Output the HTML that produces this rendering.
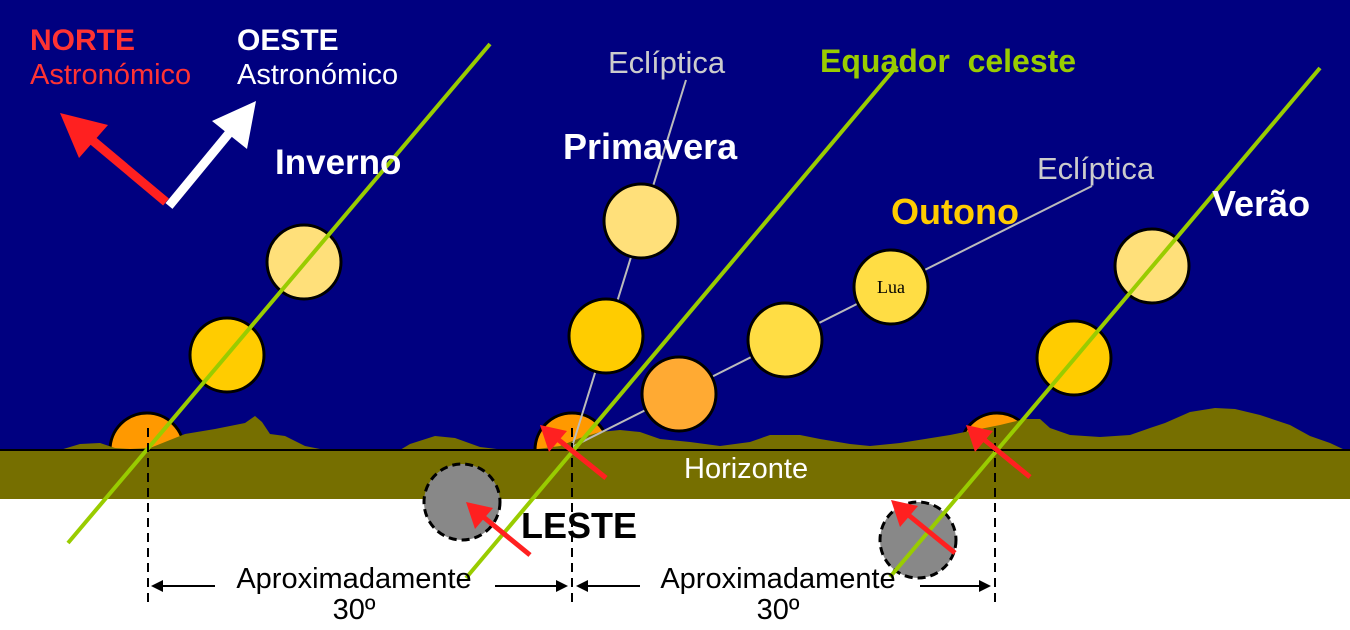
<!DOCTYPE html>
<html><head><meta charset="utf-8"><style>
html,body{margin:0;padding:0;width:1350px;height:630px;overflow:hidden;background:#fff}
svg{display:block}
text{font-family:"Liberation Sans",sans-serif}
</style></head><body>
<svg width="1350" height="630" viewBox="0 0 1350 630" xmlns="http://www.w3.org/2000/svg">
<defs>
<clipPath id="sky"><rect x="0" y="0" width="1350" height="450"/></clipPath>
<marker id="ah" markerWidth="6" markerHeight="6" refX="5" refY="3" orient="auto" markerUnits="strokeWidth"><path d="M0,0 L6,3 L0,6 z" fill="#000"/></marker>
</defs>
<rect x="0" y="0" width="1350" height="451" fill="#000080"/>
<g clip-path="url(#sky)" stroke="#000" stroke-width="3">
<circle cx="147" cy="450" r="37" fill="#ff9900"/>
<circle cx="572" cy="450" r="37" fill="#ff9900"/>
<circle cx="997" cy="450" r="37" fill="#ff9900"/>
</g>
<path d="M60,450 L80,444 L100,443 L115,448 L130,449 L150,448 L185,434 L215,429 L245,423 L255,416 L262,422 L270,434 L285,436 L305,446 L330,451 L345,450 L400,450 L410,444 L435,436 L455,438 L480,447 L505,450 L530,450 L560,446 L580,438 L600,432 L620,430 L640,432 L660,439 L690,442 L720,446 L750,442 L770,435 L800,435 L820,439 L850,444 L870,446 L900,443 L950,435 L975,430 L1000,425 L1025,419 L1040,419 L1050,428 L1070,435 L1100,437 L1130,435 L1150,428 L1165,423 L1190,412 L1215,408 L1235,409 L1260,415 L1290,425 L1310,436 L1330,443 L1345,450 Z" fill="#766f00"/>
<rect x="0" y="450" width="1350" height="49" fill="#766f00"/>
<line x1="0" y1="450" x2="1350" y2="450" stroke="#000" stroke-width="2"/>
<line x1="572" y1="447" x2="686" y2="80" stroke="#bbb" stroke-width="2"/>
<line x1="572" y1="447" x2="1092" y2="186" stroke="#bbb" stroke-width="2"/>
<g stroke="#000" stroke-width="3">
<circle cx="227" cy="355" r="37" fill="#ffcc00"/>
<circle cx="304" cy="262" r="37" fill="#ffe07a"/>
<circle cx="606" cy="336" r="37" fill="#ffcc00"/>
<circle cx="641" cy="221" r="37" fill="#ffe07a"/>
<circle cx="679" cy="394" r="37" fill="#ffaa33"/>
<circle cx="785" cy="340" r="37" fill="#ffdd44"/>
<circle cx="891" cy="287" r="37" fill="#ffdd44"/>
<circle cx="1074" cy="358" r="37" fill="#ffcc00"/>
<circle cx="1152" cy="266" r="37" fill="#ffe07a"/>
</g>
<text x="891" y="293" font-size="18" text-anchor="middle" fill="#000" style="font-family:'Liberation Serif',serif">Lua</text>
<circle cx="462" cy="502" r="38" fill="#888" stroke="#000" stroke-width="3" stroke-dasharray="8,5"/>
<circle cx="918" cy="540" r="38" fill="#888" stroke="#000" stroke-width="3" stroke-dasharray="8,5"/>
<g stroke="#99cc00" stroke-width="4">
<line x1="68" y1="543" x2="490" y2="44"/>
<line x1="466" y1="578" x2="897" y2="66"/>
<line x1="890" y1="577" x2="1320" y2="68"/>
</g>
<g stroke="#000" stroke-width="2" stroke-dasharray="9,6">
<line x1="148" y1="428" x2="148" y2="605"/>
<line x1="572" y1="428" x2="572" y2="605"/>
<line x1="995" y1="428" x2="995" y2="605"/>
</g>
<g stroke="#000" stroke-width="2">
<line x1="215" y1="586" x2="153" y2="586" marker-end="url(#ah)"/>
<line x1="495" y1="586" x2="566" y2="586" marker-end="url(#ah)"/>
<line x1="640" y1="586" x2="578" y2="586" marker-end="url(#ah)"/>
<line x1="920" y1="586" x2="989" y2="586" marker-end="url(#ah)"/>
</g>
<g fill="#ff2020">
<line x1="606" y1="478" x2="555" y2="437" stroke="#ff2020" stroke-width="5"/>
<polygon points="540,425 567,431 549,452"/>
<line x1="1030" y1="477" x2="981" y2="437" stroke="#ff2020" stroke-width="5"/>
<polygon points="966,425 993,431 975,452"/>
<line x1="530" y1="555" x2="481" y2="515" stroke="#ff2020" stroke-width="5"/>
<polygon points="466,502 493,508 475,529"/>
<line x1="955" y1="553" x2="906" y2="513" stroke="#ff2020" stroke-width="5"/>
<polygon points="891,500 918,506 900,527"/>
</g>
<line x1="166" y1="202" x2="86" y2="135" stroke="#ff2020" stroke-width="9"/>
<polygon points="60,113 108,125 79,158" fill="#ff2020"/>
<line x1="169" y1="206" x2="230" y2="132" stroke="#fff" stroke-width="9"/>
<polygon points="256,101 247,149 212,121" fill="#fff"/>
<text x="30" y="50" font-size="30" font-weight="bold" fill="#ff3333">NORTE</text>
<text x="30" y="84" font-size="29" fill="#ff3333">Astronómico</text>
<text x="237" y="50" font-size="30" font-weight="bold" fill="#fff">OESTE</text>
<text x="237" y="84" font-size="29" fill="#fff">Astronómico</text>
<text x="275" y="174" font-size="35" font-weight="bold" fill="#fff">Inverno</text>
<text x="563" y="159" font-size="36" font-weight="bold" fill="#fff">Primavera</text>
<text x="608" y="73" font-size="31" fill="#ccc">Eclíptica</text>
<text x="1037" y="179" font-size="31" fill="#ccc">Eclíptica</text>
<text x="820" y="72" font-size="32" font-weight="bold" fill="#99cc00">Equador&#160; celeste</text>
<text x="891" y="224" font-size="36" font-weight="bold" fill="#ffcc00">Outono</text>
<text x="1212" y="216" font-size="36" font-weight="bold" fill="#fff">Verão</text>
<text x="684" y="478" font-size="29" fill="#fff">Horizonte</text>
<text x="521" y="538" font-size="36" font-weight="bold" fill="#000">LESTE</text>
<text x="354" y="588" font-size="29" text-anchor="middle" fill="#000">Aproximadamente</text>
<text x="354" y="619" font-size="29" text-anchor="middle" fill="#000">30º</text>
<text x="778" y="588" font-size="29" text-anchor="middle" fill="#000">Aproximadamente</text>
<text x="778" y="619" font-size="29" text-anchor="middle" fill="#000">30º</text>
</svg>
</body></html>
